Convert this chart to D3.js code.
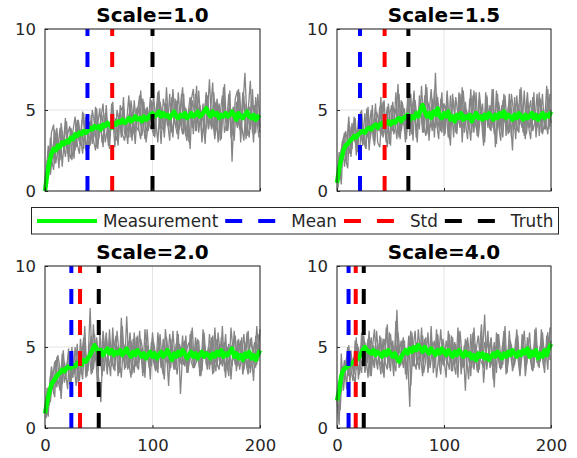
<!DOCTYPE html>
<html>
<head>
<meta charset="utf-8">
<script src="https://cdn.jsdelivr.net/npm/d3@7"></script>
<style>
  body { margin: 0; background: #fff; }
  text { font-family: "DejaVu Sans", sans-serif; }
</style>
</head>
<body>
<div id="chart"></div>
<script>
// sample positions along x: even runs and odd runs
var evenSteps = d3.range(0, 201, 2)
var oddSteps = d3.range(1, 200, 2)

var titles = ["Scale=1.0", "Scale=1.5", "Scale=2.0", "Scale=4.0"]
var meanMarks = [39.5, 21.5, 24.5, 10.8]
var stdMarks = [62.5, 44.5, 32.6, 17.5]
var truthMarks = [100, 66.7, 50, 25]

var legendLabels = ["Measurement", "Mean", "Std", "Truth"]
var xTicks = [0, 100, 200]
var yTicks = [0, 5, 10]

// Scale=1.0
var measured1 = [0.0,1.0,1.8,2.3,2.6,2.5,2.8,2.7,3.0,2.9,3.1,3.0,3.3,3.2,3.5,3.4,3.6,3.5,3.7,3.6,3.7,3.9,3.8,4.0,3.9,4.0,3.8,4.1,4.0,4.2,4.1,3.9,4.2,4.1,4.3,4.2,4.4,4.2,4.3,4.5,4.3,4.4,4.6,4.4,4.5,4.3,4.6,4.4,4.5,4.7,4.8,4.6,4.7,4.9,4.6,4.8,4.6,4.7,4.5,4.7,4.9,4.6,4.5,4.7,4.6,4.8,4.5,4.6,4.8,4.6,4.7,4.9,4.6,4.7,4.9,5.1,4.8,4.6,4.9,4.7,4.8,4.5,4.7,4.6,4.8,4.6,4.7,4.9,4.7,4.4,4.8,4.6,4.5,4.7,4.9,4.6,4.5,4.7,4.4,4.6,4.5]
var runs1a = [0.0,1.9,1.2,3.6,4.1,1.7,2.6,3.9,1.5,3.2,4.3,2.4,2.0,3.7,4.6,2.9,2.3,4.1,4.8,2.5,3.6,2.8,5.0,4.2,2.7,3.3,4.5,5.4,3.0,3.8,2.6,4.9,3.9,4.4,2.8,5.3,3.5,3.1,4.3,5.9,3.3,4.2,2.9,5.2,4.6,3.8,5.5,3.0,4.1,5.8,3.7,3.4,5.3,4.9,2.9,5.7,5.0,4.0,6.0,3.6,4.4,5.6,3.2,5.1,6.4,3.9,3.1,4.8,5.5,3.5,6.0,4.2,5.3,3.0,4.6,6.1,3.8,4.9,6.7,3.4,4.0,5.4,3.2,5.8,4.7,3.7,6.2,1.8,5.0,4.3,6.3,3.0,5.2,7.3,4.1,3.3,5.6,4.8,3.6,6.0,3.9]
var runs1b = [0.9,2.8,1.0,2.2,3.8,2.9,1.4,4.2,3.0,2.1,3.5,4.0,1.9,3.1,2.7,4.4,3.4,2.3,4.0,3.6,2.6,4.7,3.2,2.5,4.1,5.1,3.0,3.7,4.6,2.8,4.0,5.5,3.6,3.1,4.8,3.3,5.0,4.1,2.9,5.4,4.4,3.5,5.1,3.9,3.2,5.7,4.3,3.6,4.9,5.6,3.4,4.6,6.1,3.8,5.0,3.3,5.4,4.5,3.7,6.3,4.2,3.5,5.2,4.0,6.0,3.4,4.7,5.8,3.9,4.4,6.5,3.6,5.0,4.3,2.9,5.9,4.6,3.8,6.1,4.0,5.3,3.1,4.8,6.6,3.7,5.1,4.2,3.4,5.7,6.2,3.8,4.5,5.9,3.2,4.9,6.8,3.6,5.3,4.4,3.3]
var runs1c = [0.0,0.6,2.7,2.0,1.3,3.4,2.9,1.9,3.7,2.6,3.2,1.8,3.9,3.4,2.5,4.4,3.1,3.8,2.6,4.6,3.5,4.1,2.9,3.6,5.1,3.3,4.0,2.7,4.8,4.3,3.2,5.4,3.8,4.5,3.0,4.9,5.2,3.5,4.1,3.3,5.6,4.4,3.6,4.8,5.9,3.4,4.2,5.1,3.7,4.6,5.5,3.3,4.9,6.2,4.0,3.8,5.4,4.3,3.1,5.8,4.5,3.9,6.1,4.2,3.5,5.2,4.7,3.0,5.6,6.3,3.7,4.8,5.3,3.4,4.1,6.0,3.9,5.1,4.4,3.2,5.7,4.6,3.5,6.4,4.3,3.8,5.0,4.7,3.1,5.5,4.2,3.7,6.1,4.5,3.4,5.2,4.9,3.0,5.8,4.4,3.6]
var runs1d = [1.6,0.8,3.3,2.5,1.7,3.9,2.2,3.4,2.8,4.5,2.3,3.0,3.7,2.0,4.2,3.3,2.8,4.9,3.5,2.4,4.3,3.8,3.1,5.2,2.6,4.0,4.7,3.4,5.3,3.0,3.9,4.6,2.7,5.0,4.2,3.6,5.8,3.3,4.4,4.9,3.1,5.6,4.0,3.7,6.2,4.5,3.2,5.2,4.1,3.8,5.9,4.3,3.0,5.5,4.8,3.6,6.4,4.0,4.6,3.3,5.7,4.2,3.8,6.0,3.5,5.1,4.4,2.6,5.6,4.9,3.7,6.2,4.1,5.4,3.4,4.7,6.9,3.9,4.3,5.5,3.0,4.8,5.9,3.6,4.2,6.0,3.3,5.2,4.6,3.9,6.1,4.0,3.1,5.4,4.7,3.8,6.3,3.5,5.0,4.2]

// Scale=1.5
var measured2 = [0.5,1.4,2.0,2.5,2.8,2.9,3.1,3.2,3.4,3.3,3.5,3.6,3.7,3.6,3.8,3.9,3.8,4.0,4.1,3.9,4.1,4.2,4.0,4.2,4.3,4.1,4.3,4.2,4.4,4.5,4.3,4.5,4.6,4.7,4.4,4.6,4.5,4.8,4.6,5.0,5.3,4.9,4.6,4.8,4.5,4.9,4.7,5.1,4.6,4.5,4.8,4.6,4.9,4.4,4.6,4.3,4.7,4.5,4.8,4.4,4.6,4.5,4.7,4.3,4.6,4.8,4.5,4.6,4.4,4.7,4.5,4.8,4.6,4.4,4.7,4.5,4.8,4.6,4.9,4.5,4.7,4.6,4.4,4.7,4.5,4.8,4.6,4.4,4.7,4.5,4.6,4.8,4.5,4.7,4.4,4.6,4.8,4.5,4.7,4.6,4.9]
var runs2a = [0.5,2.4,0.4,3.3,2.0,1.4,4.0,2.6,4.6,2.2,3.5,4.9,2.8,3.3,5.1,2.5,4.2,3.6,5.4,3.0,2.7,4.8,5.6,3.4,3.9,2.8,5.5,4.3,3.2,6.0,3.7,4.6,3.0,5.8,4.1,3.5,6.2,3.3,4.9,5.5,3.6,4.4,6.4,3.1,5.2,4.0,7.3,3.8,4.5,6.1,3.4,5.3,4.2,2.8,6.0,4.7,3.5,5.6,3.9,6.2,4.3,3.2,5.7,4.8,3.6,6.1,3.3,4.6,5.4,3.0,5.9,4.1,3.7,6.3,2.7,5.0,4.4,3.8,6.0,3.4,5.2,4.6,2.5,5.8,4.0,3.6,6.4,4.3,3.2,5.5,4.8,3.7,6.1,3.3,4.9,5.7,3.5,4.2,6.5,3.8,5.0]
var runs2b = [1.2,0.7,2.9,3.6,1.8,4.3,2.7,3.9,4.5,2.4,3.8,5.0,3.1,2.6,4.7,3.5,5.3,2.9,4.4,3.7,5.8,3.3,4.1,5.2,2.9,4.8,3.6,6.1,4.0,3.4,5.5,4.6,3.2,6.3,3.9,5.1,4.4,3.0,5.9,4.8,3.6,6.6,4.2,3.9,5.7,3.3,6.0,4.5,3.7,5.4,4.1,6.2,3.2,4.9,5.6,3.6,4.3,6.0,3.0,5.2,4.6,3.8,6.3,4.0,5.0,3.4,5.7,4.4,2.8,6.1,3.9,5.3,4.7,3.5,6.2,4.1,3.1,5.6,4.5,3.8,6.0,3.3,5.1,4.2,3.7,6.3,4.6,3.4,5.4,4.0,3.2,5.8,4.4,3.9,6.1,3.6,5.0,4.3,3.5,6.0]
var runs2c = [0.5,1.1,2.6,1.9,3.7,3.0,2.3,4.2,3.2,2.8,4.4,3.6,2.9,4.8,3.3,4.0,5.0,3.1,4.5,3.8,5.2,3.5,4.3,3.0,5.4,4.1,3.7,5.1,4.6,3.3,5.6,4.2,3.9,5.3,3.4,4.9,6.0,3.8,4.4,5.5,4.0,5.9,3.5,4.7,6.3,4.3,3.9,5.8,4.6,3.6,5.4,4.9,3.3,5.9,4.2,4.8,3.7,6.1,4.4,3.9,5.5,4.1,5.0,3.6,6.2,4.5,3.8,5.2,4.7,3.4,5.8,4.3,5.1,3.9,4.6,6.0,3.7,5.3,4.2,4.9,3.5,5.6,4.4,3.8,5.9,4.1,5.0,3.6,4.7,6.1,3.9,4.5,5.4,3.7,5.1,4.3,6.0,3.8,4.8,5.5,4.2]
var runs2d = [0.2,1.8,3.1,1.5,2.7,4.6,2.1,3.4,4.0,3.0,2.2,4.5,3.7,2.6,5.2,3.2,4.1,2.8,4.9,4.3,3.4,5.5,3.8,2.7,4.6,5.3,3.5,4.0,6.6,3.2,4.7,5.1,3.6,4.3,6.0,3.1,5.6,4.4,3.8,6.5,4.1,3.4,5.5,4.8,3.7,6.2,4.3,3.2,5.7,4.6,3.5,6.0,4.0,5.1,3.3,5.8,4.7,3.9,6.4,3.6,5.0,4.4,3.1,5.9,4.2,3.7,6.1,4.8,3.4,5.3,4.5,3.8,6.3,4.0,2.9,5.5,4.6,3.3,5.9,4.1,3.6,6.0,4.9,3.2,5.4,4.4,3.9,6.2,3.5,4.8,5.6,3.7,4.3,6.0,3.4,5.2,4.5,3.8,6.3,4.0]

// Scale=2.0
var measured3 = [0.9,1.6,2.2,2.7,2.9,3.1,3.3,3.4,3.6,3.5,3.7,3.8,3.7,3.9,3.8,4.0,4.1,3.9,4.2,4.1,4.3,4.5,4.8,5.1,4.9,4.6,4.8,4.5,4.7,4.9,4.6,4.8,4.5,4.7,4.6,4.8,4.5,4.7,4.9,4.6,4.4,4.7,4.5,4.8,4.6,4.4,4.6,4.3,4.5,4.7,4.4,4.6,4.3,4.5,4.7,4.4,4.6,4.8,4.5,4.2,4.6,4.4,4.7,4.5,4.8,4.6,4.3,4.5,4.7,4.4,4.6,4.3,4.5,4.7,4.4,4.6,4.5,4.3,4.6,4.4,4.7,4.5,4.8,4.4,4.6,4.5,4.7,4.9,4.4,4.6,4.3,4.5,4.2,4.6,4.4,4.7,4.3,4.5,4.2,4.5,4.8]
var runs3a = [0.9,2.5,1.4,3.5,2.1,4.2,3.0,2.3,4.6,2.8,3.6,4.9,2.6,4.1,3.3,5.2,2.9,4.4,5.6,3.1,4.0,7.4,3.4,5.8,4.2,3.0,1.6,5.4,4.5,3.3,6.1,3.8,4.9,5.7,3.2,4.4,6.3,3.6,6.9,4.0,3.1,5.5,4.6,3.7,6.0,4.2,3.4,5.3,4.8,3.0,5.9,4.3,3.6,5.6,4.0,3.3,6.1,4.7,3.5,5.2,4.4,3.8,5.8,2.1,4.6,5.4,3.4,4.1,6.0,3.7,4.9,5.5,3.2,4.5,5.9,3.9,4.3,5.2,3.3,6.2,4.0,3.6,5.6,4.7,3.1,5.0,4.4,3.8,6.0,3.5,4.8,5.4,3.3,4.2,5.9,3.7,4.6,2.9,5.7,4.1,6.1]
var runs3b = [1.4,0.7,3.2,2.6,1.9,4.4,3.3,2.4,4.8,3.0,4.1,2.7,5.0,3.5,4.3,2.8,5.5,3.9,6.3,3.2,4.6,5.7,3.6,4.8,2.3,6.0,4.1,3.5,5.6,4.4,3.2,6.2,3.9,5.0,3.4,6.8,4.3,3.7,5.4,4.6,3.3,5.9,4.0,3.6,5.5,4.8,3.1,6.1,4.2,3.8,5.3,4.5,3.4,5.8,4.1,3.0,5.6,4.4,3.7,6.0,4.2,3.3,5.2,4.7,3.9,5.7,3.5,4.5,6.2,3.8,4.1,5.4,3.2,5.0,4.6,3.6,5.8,4.3,3.4,5.5,4.7,3.9,6.3,3.5,4.4,5.2,3.0,4.9,5.7,3.8,4.3,5.6,3.6,4.8,6.0,3.4,4.5,5.3,3.9,5.8]
var runs3c = [0.9,1.3,2.4,3.8,2.9,3.3,4.5,3.6,2.7,4.1,3.4,4.6,3.7,3.1,5.0,3.6,4.2,3.3,4.8,4.4,3.5,5.3,5.0,4.1,5.6,4.4,3.8,6.0,4.6,3.9,5.5,4.3,3.6,5.2,4.7,3.9,5.8,4.1,5.0,3.7,5.4,4.5,3.8,5.7,4.2,4.9,3.6,5.3,4.4,4.0,5.6,3.9,4.7,5.1,3.7,5.5,4.3,4.0,5.8,4.5,3.6,5.2,4.6,4.0,5.7,3.8,4.9,5.3,4.1,3.7,5.6,4.4,4.8,3.5,5.4,4.2,5.0,3.9,5.7,4.3,3.8,5.2,4.6,4.0,5.8,3.6,4.8,5.1,4.2,3.9,5.5,4.4,4.0,5.3,3.7,4.9,5.6,4.1,3.8,5.2,4.6]
var runs3d = [0.6,2.0,1.6,3.0,4.1,2.5,3.7,1.8,4.0,3.5,2.4,4.7,3.2,3.9,2.6,4.5,4.0,3.0,5.3,3.6,4.9,3.3,6.4,4.4,3.7,5.1,3.2,4.6,5.9,3.8,4.2,5.4,3.5,6.0,4.5,3.1,5.2,4.8,3.6,5.9,4.3,3.4,5.6,4.0,4.9,3.2,6.1,4.6,3.7,5.3,4.1,3.5,5.9,4.4,3.8,5.1,4.7,2.6,5.5,4.2,3.6,6.0,4.5,3.9,5.3,4.1,3.4,5.8,4.6,3.7,5.2,4.0,3.3,6.1,4.4,4.8,3.6,5.6,4.2,3.5,5.9,4.5,3.8,5.3,4.1,3.2,6.2,4.7,3.9,5.4,3.6,4.4,5.8,4.0,3.3,5.5,4.8,3.7,6.3,4.5]

// Scale=4.0
var measured4 = [1.7,2.3,3.2,3.6,3.7,3.8,3.9,4.0,4.1,4.2,4.3,4.5,4.8,5.0,4.8,4.7,4.6,4.8,4.5,4.7,4.6,4.4,4.7,4.5,4.8,4.6,4.4,4.6,4.3,4.1,4.4,4.6,4.8,4.6,4.9,4.7,5.0,4.8,5.1,4.9,4.7,5.0,4.8,4.6,4.9,4.7,4.5,4.8,4.6,4.9,4.7,4.5,4.8,4.6,4.4,4.7,4.5,4.8,4.6,4.4,4.7,4.5,4.6,4.3,4.5,4.2,4.6,4.4,4.6,4.3,4.5,4.2,4.4,4.6,4.4,4.7,4.5,4.3,4.6,4.4,4.7,4.5,4.8,4.6,4.4,4.7,4.5,4.8,4.6,4.9,4.4,4.7,4.5,4.8,4.3,4.6,4.4,4.8,4.5,4.9,5.2]
var runs4a = [1.7,0.2,4.6,2.3,3.7,5.0,2.8,4.3,3.3,5.6,3.0,4.7,5.8,3.4,4.1,6.0,3.2,5.1,4.4,3.6,5.7,4.0,3.1,6.2,4.6,3.5,5.4,4.2,7.3,3.7,4.8,5.6,3.3,4.4,1.3,5.9,4.1,3.6,6.1,4.5,3.2,5.5,4.8,3.9,6.3,3.4,4.6,5.7,3.8,5.1,4.3,3.1,6.0,4.7,3.5,5.3,4.0,5.9,3.3,4.8,2.3,5.6,4.4,3.7,6.2,4.1,3.4,5.2,4.6,7.0,3.6,4.9,5.5,3.0,4.3,5.8,3.7,4.5,6.0,3.3,4.8,5.3,3.5,4.2,6.1,3.9,4.7,5.6,3.2,4.5,5.9,3.6,4.1,6.2,3.8,5.0,4.4,3.4,5.7,4.6,5.4]
var runs4b = [0.9,2.7,3.1,4.2,2.4,5.1,3.6,2.9,5.4,4.0,3.3,5.9,3.8,4.6,5.5,3.2,4.9,6.1,3.9,4.3,5.6,3.4,4.8,6.4,3.7,5.2,4.1,3.5,5.9,4.6,3.9,5.4,3.0,4.7,6.0,3.8,5.1,4.3,3.6,6.2,4.0,5.6,3.4,4.9,5.3,3.7,6.1,4.2,3.3,5.5,4.6,3.9,5.8,3.5,4.4,5.2,3.1,6.0,4.3,3.8,5.4,4.7,3.2,5.9,4.0,4.8,3.6,5.7,2.8,4.5,6.0,3.7,4.2,5.3,3.4,5.8,4.4,3.9,6.3,3.5,4.9,5.1,3.8,4.3,5.7,3.3,4.6,6.0,3.9,5.2,4.1,3.5,5.6,4.8,3.7,6.1,4.2,5.0,3.6,6.2]
var runs4c = [1.7,2.6,2.2,3.4,4.1,3.5,4.6,3.9,4.4,3.6,5.0,4.2,3.8,5.3,4.0,4.7,5.6,3.9,4.5,5.2,4.1,3.8,5.5,4.7,4.0,5.8,4.3,3.9,5.1,4.6,5.4,3.7,4.9,4.2,5.6,4.4,3.8,5.3,4.7,4.1,5.7,4.3,4.9,3.9,5.5,4.5,4.0,5.8,4.2,4.8,3.8,5.4,4.6,4.1,5.6,3.9,4.7,5.2,4.3,3.7,5.5,4.4,4.0,5.1,3.6,4.8,5.7,4.2,3.9,5.3,4.5,4.1,5.6,3.8,4.9,5.2,4.3,3.7,5.5,4.6,4.0,5.4,4.4,3.9,5.8,4.2,4.7,5.0,3.8,5.6,4.3,4.9,3.7,5.3,4.5,4.1,5.9,4.4,4.8,5.5,5.1]
var runs4d = [2.4,1.1,3.8,2.9,4.4,3.2,4.8,3.5,2.7,5.2,4.0,3.4,5.7,4.5,3.1,5.3,4.2,3.7,6.0,4.4,3.3,5.5,4.1,3.6,5.9,4.8,3.2,6.6,4.3,3.8,5.2,4.5,3.5,5.7,2.6,4.9,6.0,3.9,4.6,5.3,3.4,4.2,5.9,3.7,4.8,5.4,3.1,4.4,6.1,3.9,5.0,4.3,3.6,5.7,4.1,3.3,6.2,4.6,3.8,5.1,4.4,3.0,5.8,4.0,5.2,3.5,4.7,6.4,3.7,4.3,5.5,3.9,4.6,2.5,5.9,4.2,3.6,5.3,4.8,3.4,6.0,4.1,3.7,5.5,4.4,3.2,5.8,4.6,3.9,5.1,4.3,3.6,6.1,4.0,4.7,5.4,3.8,4.5,5.9,4.2]

var panelData = [
  { measured: measured1, evenRuns: [runs1a, runs1c], oddRuns: [runs1b, runs1d] },
  { measured: measured2, evenRuns: [runs2a, runs2c], oddRuns: [runs2b, runs2d] },
  { measured: measured3, evenRuns: [runs3a, runs3c], oddRuns: [runs3b, runs3d] },
  { measured: measured4, evenRuns: [runs4a, runs4c], oddRuns: [runs4b, runs4d] }
]

var lineColors = { Measurement: "#00ff00", Mean: "#0000ff", Std: "#ff0000", Truth: "#000000" }
var axisColor = "#262626"

var svg = d3.select("#chart")
  .append("svg")
  .attr("width", 577)
  .attr("height", 458)

// panel boxes in page pixels
var boxes = [
  { left: 45, top: 29, width: 215, height: 162, xLabels: false },
  { left: 337, top: 29, width: 214, height: 162, xLabels: false },
  { left: 45, top: 266, width: 215, height: 162, xLabels: true },
  { left: 337, top: 266, width: 214, height: 162, xLabels: true }
]

boxes.forEach(function(b, i) {
  var g = svg.append("g")
    .attr("transform", "translate(" + b.left + "," + b.top + ")")

  var x = d3.scaleLinear().domain([0, 200]).range([0, b.width])
  var y = d3.scaleLinear().domain([0, 10]).range([b.height, 0])

  // grid
  g.selectAll(".vgrid")
    .data(xTicks)
    .enter().append("line")
    .attr("x1", d => x(d)).attr("x2", d => x(d))
    .attr("y1", 0).attr("y2", b.height)
    .attr("stroke", "#e3e3e3")
  g.selectAll(".hgrid")
    .data(yTicks)
    .enter().append("line")
    .attr("y1", d => y(d)).attr("y2", d => y(d))
    .attr("x1", 0).attr("x2", b.width)
    .attr("stroke", "#e3e3e3")

  var evenLine = d3.line().x((d, k) => x(evenSteps[k])).y(d => y(d))
  var oddLine = d3.line().x((d, k) => x(oddSteps[k])).y(d => y(d))

  var p = panelData[i]
  var runs = [
    { vals: p.evenRuns[0], gen: evenLine },
    { vals: p.oddRuns[0], gen: oddLine },
    { vals: p.evenRuns[1], gen: evenLine },
    { vals: p.oddRuns[1], gen: oddLine }
  ]
  runs.forEach(function(r) {
    g.append("path")
      .attr("d", r.gen(r.vals))
      .attr("fill", "none")
      .attr("stroke", "#858585")
      .attr("stroke-width", 1.3)
  })

  g.append("path")
    .datum(p.measured)
    .attr("d", evenLine)
    .attr("fill", "none")
    .attr("stroke", lineColors.Measurement)
    .attr("stroke-width", 4.5)
    .attr("stroke-linejoin", "round")

  var marks = [
    { v: meanMarks[i], c: lineColors.Mean },
    { v: stdMarks[i], c: lineColors.Std },
    { v: truthMarks[i], c: lineColors.Truth }
  ]
  g.selectAll(".mark")
    .data(marks)
    .enter().append("line")
    .attr("x1", d => x(d.v)).attr("x2", d => x(d.v))
    .attr("y1", y(0)).attr("y2", y(10))
    .attr("stroke", d => d.c)
    .attr("stroke-width", 4)
    .attr("stroke-dasharray", "15,16")

  // box
  g.append("rect")
    .attr("width", b.width).attr("height", b.height)
    .attr("fill", "none")
    .attr("stroke", axisColor)
    .attr("stroke-width", 1)

  var yAxis = d3.axisLeft(y).tickValues(yTicks).tickSize(-3).tickSizeOuter(0).tickPadding(9)
  var xAxis = d3.axisBottom(x).tickValues(xTicks).tickSize(-3).tickSizeOuter(0).tickPadding(11)
  if (!b.xLabels) xAxis.tickFormat("")

  var ya = g.append("g").attr("class", "axis y-axis").call(yAxis)
  var xa = g.append("g").attr("class", "axis x-axis")
    .attr("transform", "translate(0," + b.height + ")")
    .call(xAxis)
  ;[ya, xa].forEach(function(a) {
    a.select(".domain").remove()
    a.selectAll("line").attr("stroke", axisColor)
    a.selectAll("text")
      .attr("fill", axisColor)
      .style("font-size", "16.5px")
      .style("font-family", "'DejaVu Sans', sans-serif")
  })

  g.append("text")
    .attr("x", b.width / 2)
    .attr("y", -7)
    .attr("text-anchor", "middle")
    .style("font-size", "20px")
    .style("font-weight", "bold")
    .text(titles[i])
})

// legend
var legend = svg.append("g")
legend.append("rect")
  .attr("x", 31.5).attr("y", 207.5)
  .attr("width", 527).attr("height", 26.5)
  .attr("fill", "#fff")
  .attr("stroke", axisColor)

var cursor = 37
legendLabels.forEach(function(label, k) {
  legend.append("line")
    .attr("x1", cursor).attr("x2", cursor + 60)
    .attr("y1", 221).attr("y2", 221)
    .attr("stroke", lineColors[label])
    .attr("stroke-width", 4)
    .attr("stroke-dasharray", k === 0 ? null : "17,16")
  var t = legend.append("text")
    .attr("x", cursor + 66)
    .attr("y", 227)
    .attr("fill", axisColor)
    .style("font-size", "16.8px")
    .text(label)
  cursor = cursor + 66 + t.node().getComputedTextLength() + 7
})
</script>
</body>
</html>
